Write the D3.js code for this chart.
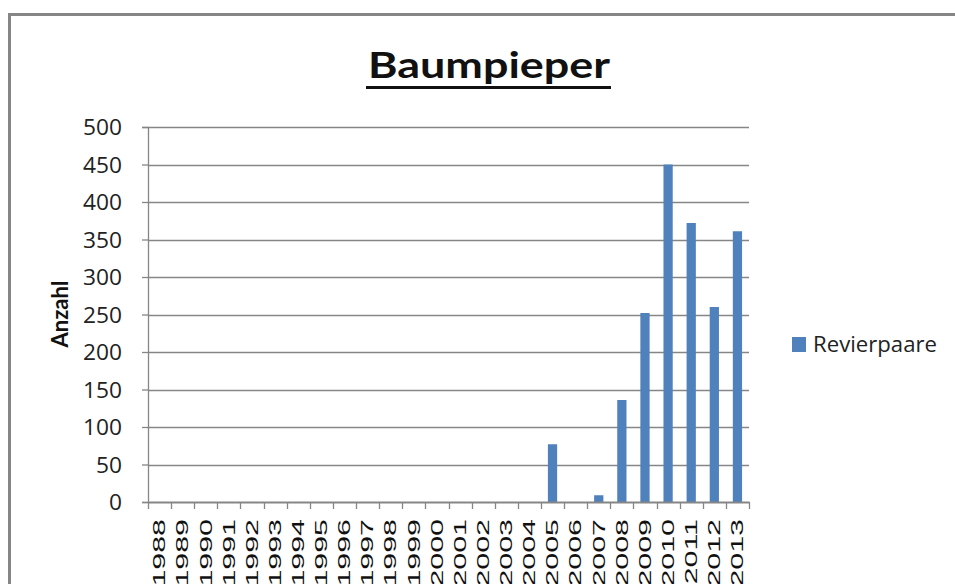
<!DOCTYPE html>
<html>
<head>
<meta charset="utf-8">
<script src="https://cdn.jsdelivr.net/npm/d3@7"></script>
<style>
  body { margin: 0; background: #fff; }
  svg { display: block; }
</style>
</head>
<body>
<div id="chart"></div>
<script>
// data
var years = ["1988","1989","1990","1991","1992","1993","1994","1995","1996","1997","1998","1999","2000",
             "2001","2002","2003","2004","2005","2006","2007","2008","2009","2010","2011","2012","2013"];
var revierpaare = [0,0,0,0,0,0,0,0,0,0,0,0,0,0,0,0,0,77,0,9,136,252,450,372,260,361];
var yTicks = [0,50,100,150,200,250,300,350,400,450,500];
var seriesName = "Revierpaare";

function drawChart() {
    var width = 955, height = 584;
    var plotLeft = 148, plotRight = 749, plotTop = 127, plotBottom = 502;
    var grey = "#868686", blue = "#4f81bd";

    var svg = d3.select("#chart").append("svg").attr("width", width).attr("height", height);

    // chart frame (only top and left edges are inside the picture)
    svg.append("rect")
        .attr("x", 9.5).attr("y", 14.5)
        .attr("width", 1000).attr("height", 700)
        .attr("fill", "none").attr("stroke", grey).attr("stroke-width", 3);

    var x = d3.scaleBand().domain(years).range([plotLeft, plotRight]).padding(0);
    var y = d3.scaleLinear().domain([0, 500]).range([plotBottom, plotTop]);

    // gridlines
    svg.append("g")
        .selectAll("line")
        .data(yTicks.slice(1))
        .enter().append("line")
        .attr("x1", plotLeft).attr("x2", plotRight)
        .attr("y1", function(d) { return Math.round(y(d)) + 0.5; })
        .attr("y2", function(d) { return Math.round(y(d)) + 0.5; })
        .attr("stroke", grey).attr("stroke-width", 1.3);

    // bars
    var barW = x.bandwidth() / 2.5;
    svg.append("g")
        .selectAll("rect")
        .data(revierpaare)
        .enter().append("rect")
        .attr("x", function(d, i) { return x(years[i]) + (x.bandwidth() - barW) / 2; })
        .attr("y", function(d) { return y(d); })
        .attr("width", barW)
        .attr("height", function(d) { return y(0) - y(d); })
        .attr("fill", blue);

    // y axis
    var yAxis = svg.append("g")
        .attr("transform", "translate(" + plotLeft + ",0)")
        .call(d3.axisLeft(y).tickValues(yTicks).tickSize(6).tickPadding(20).tickFormat(d3.format("d")));
    yAxis.select(".domain").attr("stroke", grey).attr("stroke-width", 1.3);
    yAxis.selectAll(".tick line").attr("stroke", grey).attr("stroke-width", 1.3);
    yAxis.selectAll(".tick text")
        .attr("fill", "#222")
        .style("font-family", "'Open Sans', sans-serif")
        .style("font-size", "21px")
        .attr("dy", "0.36em")
        .attr("textLength", function(d) { return String(d).length * 13; })
        .attr("lengthAdjust", "spacingAndGlyphs");

    // x axis
    var xAxis = svg.append("g")
        .attr("transform", "translate(0," + plotBottom + ")")
        .call(d3.axisBottom(x).tickSize(0).tickFormat(""));
    xAxis.select(".domain").attr("stroke", grey).attr("stroke-width", 2);
    xAxis.selectAll(".tick").remove();

    // tick marks between categories
    svg.append("g")
        .selectAll("line")
        .data(years.concat(["end"]))
        .enter().append("line")
        .attr("x1", function(d, i) { return Math.round(plotLeft + i * x.bandwidth()) + 0.5; })
        .attr("x2", function(d, i) { return Math.round(plotLeft + i * x.bandwidth()) + 0.5; })
        .attr("y1", plotBottom).attr("y2", plotBottom + 7)
        .attr("stroke", grey).attr("stroke-width", 1.3);

    svg.append("g")
        .selectAll("text")
        .data(years)
        .enter().append("text")
        .attr("transform", function(d) {
            return "translate(" + (x(d) + x.bandwidth() / 2) + "," + (plotBottom + 17) + ") rotate(-90) scale(1.9,1)";
        })
        .attr("text-anchor", "end")
        .attr("dy", "0.36em")
        .style("font-family", "'Liberation Sans', Arial, sans-serif")
        .style("font-size", "16px")
        .attr("fill", "#111")
        .text(function(d) { return d; });

    // y axis title
    svg.append("text")
        .attr("transform", "translate(68,314) rotate(-90)")
        .attr("text-anchor", "middle")
        .style("font-family", "Lato, sans-serif")
        .style("font-weight", "bold")
        .style("font-size", "22px")
        .attr("fill", "#111")
        .text("Anzahl");

    // title
    svg.append("text")
        .attr("x", 368).attr("y", 78)
        .attr("textLength", 242).attr("lengthAdjust", "spacingAndGlyphs")
        .style("font-family", "Lato, sans-serif")
        .style("font-weight", "bold")
        .style("font-size", "37px")
        .attr("fill", "#111")
        .text("Baumpieper");
    svg.append("line")
        .attr("x1", 366).attr("x2", 611)
        .attr("y1", 87.5).attr("y2", 87.5)
        .attr("stroke", "#111").attr("stroke-width", 3);

    // legend
    var legend = svg.append("g").attr("transform", "translate(792,337)");
    legend.append("rect").attr("width", 14).attr("height", 15).attr("fill", blue);
    legend.append("text")
        .attr("x", 21).attr("y", 15)
        .attr("textLength", 124).attr("lengthAdjust", "spacingAndGlyphs")
        .style("font-family", "'Open Sans', sans-serif")
        .style("font-size", "21px")
        .attr("fill", "#222")
        .text(seriesName);
}
drawChart();
</script>
</body>
</html>
